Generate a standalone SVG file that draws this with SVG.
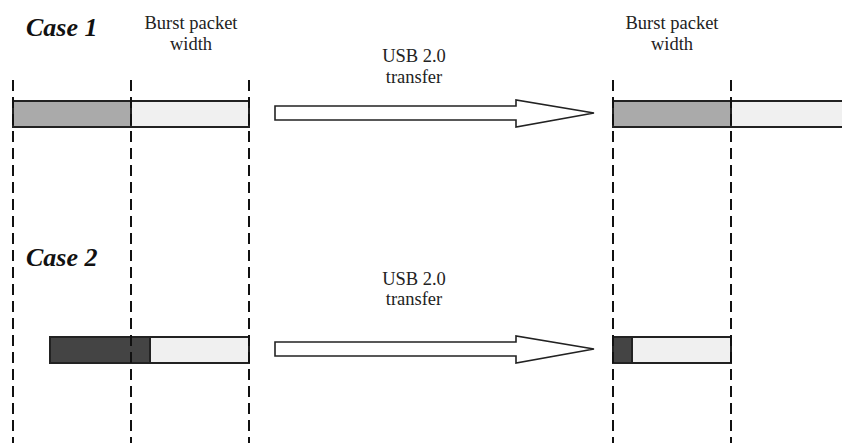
<svg xmlns="http://www.w3.org/2000/svg" width="842" height="443" viewBox="0 0 842 443">
<style>
.guide{stroke:#111;stroke-width:2;stroke-dasharray:11,6;fill:none}
.bar{stroke:#222;stroke-width:2}
.mid{fill:#aaaaaa}
.dark{fill:#444444}
.light{fill:#f0f0f0}
.arrow{fill:#fff;stroke:#222;stroke-width:1.6}
.case{font-family:"Liberation Serif",serif;font-weight:bold;font-style:italic;font-size:26px;fill:#111}
.lbl{font-family:"Liberation Serif",serif;font-size:18.5px;fill:#222;text-anchor:middle}
</style>
<rect width="842" height="443" fill="#fff"/>
<g id="case1-label"><text class="case" x="26" y="36">Case 1</text></g>
<g id="case2-label"><text class="case" x="26" y="266">Case 2</text></g>
<g id="burst-left"><text class="lbl" x="191" y="29">Burst packet</text><text class="lbl" x="191" y="50">width</text></g>
<g id="burst-right"><text class="lbl" x="672" y="29">Burst packet</text><text class="lbl" x="672" y="50">width</text></g>
<g id="case1-src">
<rect class="bar mid" x="13" y="101" width="118" height="26"/>
<rect class="bar light" x="131" y="101" width="118" height="26"/>
</g>
<g id="case1-dst">
<rect class="bar mid" x="613" y="101" width="118" height="26"/>
<rect class="bar light" x="731" y="101" width="120" height="26"/>
</g>
<g id="case2-src">
<rect class="bar dark" x="50" y="337" width="100" height="26"/>
<rect class="bar light" x="150" y="337" width="99" height="26"/>
</g>
<g id="case2-dst">
<rect class="bar dark" x="613" y="337" width="19" height="26"/>
<rect class="bar light" x="632" y="337" width="99" height="26"/>
</g>
<g id="connectors">
<line class="guide" x1="13" y1="80" x2="13" y2="443"/>
<line class="guide" x1="131" y1="80" x2="131" y2="443"/>
<line class="guide" x1="249" y1="80" x2="249" y2="443"/>
<line class="guide" x1="613" y1="80" x2="613" y2="443"/>
<line class="guide" x1="731" y1="80" x2="731" y2="443"/>
<polygon class="arrow" points="275,106 516,106 516,100 594,113 516,127 516,120 275,120"/>
<polygon class="arrow" points="275,342 516,342 516,336 594,349 516,363 516,356 275,356"/>
</g>
<g id="transfer1"><text class="lbl" x="414" y="62">USB 2.0</text><text class="lbl" x="414" y="83">transfer</text></g>
<g id="transfer2"><text class="lbl" x="414" y="285">USB 2.0</text><text class="lbl" x="414" y="305">transfer</text></g>
</svg>
